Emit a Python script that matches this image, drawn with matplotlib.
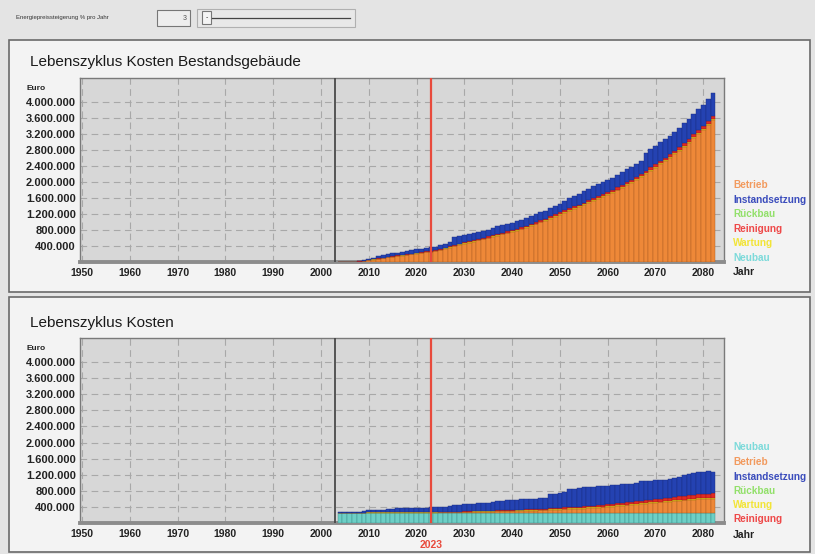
import numpy as np
import matplotlib
matplotlib.use('Agg')
import matplotlib.pyplot as plt
from matplotlib.patches import Rectangle
from matplotlib.ticker import FuncFormatter

plt.rcParams['font.family'] = ['Liberation Sans', 'DejaVu Sans']

# Jahre, ein Balken pro Jahr
jahre = list(range(2004, 2083))
jahr_bestand = 2003      # graue Linie
jahr_auswahl = 2023      # rote Linie
energiepreis = '3'

# --- Lebenszyklus Kosten Bestandsgebäude (Mio. Euro, kumuliert) ---
best_betrieb = [0.0, 0.0, 0.0, 0.0, 0.01, 0.02,
                0.04, 0.06, 0.08, 0.10, 0.12, 0.13, 0.15, 0.16, 0.18, 0.19,
                0.21, 0.22, 0.24, 0.25, 0.27, 0.30, 0.33, 0.36, 0.40, 0.43,
                0.46, 0.48, 0.51, 0.54, 0.57, 0.60, 0.63, 0.66, 0.69, 0.72,
                0.75, 0.78, 0.82, 0.86, 0.90, 0.94, 0.99, 1.03, 1.08, 1.13,
                1.18, 1.23, 1.28, 1.33, 1.37, 1.42, 1.47, 1.52, 1.57, 1.62,
                1.67, 1.73, 1.79, 1.85, 1.92, 1.98, 2.05, 2.12, 2.20, 2.28,
                2.36, 2.44, 2.52, 2.60, 2.69, 2.78, 2.87, 2.98, 3.09, 3.20,
                3.31, 3.43, 3.55]
best_wartung = [0, 0, 0, 0, 0.001, 0.002,
                0.002, 0.003, 0.003, 0.004, 0.004, 0.005, 0.005, 0.005, 0.006, 0.006,
                0.006, 0.007, 0.007, 0.007, 0.008, 0.008, 0.008, 0.009, 0.009, 0.009,
                0.010, 0.010, 0.010, 0.011, 0.011, 0.011, 0.012, 0.012, 0.012, 0.013,
                0.013, 0.013, 0.014, 0.014, 0.014, 0.015, 0.015, 0.015, 0.016, 0.016,
                0.016, 0.017, 0.017, 0.017, 0.018, 0.018, 0.018, 0.019, 0.019, 0.019,
                0.020, 0.020, 0.020, 0.021, 0.021, 0.021, 0.022, 0.022, 0.022, 0.023,
                0.023, 0.023, 0.024, 0.024, 0.024, 0.025, 0.025, 0.025, 0.026, 0.026,
                0.026, 0.027, 0.027]
best_reinigung = [0, 0, 0, 0, 0.002, 0.003,
                  0.004, 0.005, 0.006, 0.007, 0.008, 0.009, 0.010, 0.011, 0.012, 0.013,
                  0.014, 0.015, 0.016, 0.017, 0.018, 0.019, 0.020, 0.021, 0.022, 0.023,
                  0.024, 0.025, 0.026, 0.027, 0.028, 0.029, 0.030, 0.031, 0.032, 0.033,
                  0.034, 0.035, 0.036, 0.037, 0.038, 0.039, 0.040, 0.041, 0.042, 0.043,
                  0.044, 0.045, 0.046, 0.047, 0.048, 0.049, 0.050, 0.051, 0.052, 0.053,
                  0.054, 0.055, 0.056, 0.057, 0.058, 0.059, 0.060, 0.061, 0.062, 0.063,
                  0.064, 0.065, 0.066, 0.067, 0.068, 0.069, 0.070, 0.071, 0.072, 0.073,
                  0.074, 0.075, 0.076]
best_instand = [0.005, 0.005, 0.005, 0.005, 0.01, 0.02,
                0.03, 0.04, 0.05, 0.06, 0.06, 0.07, 0.07, 0.08, 0.08, 0.08,
                0.09, 0.09, 0.09, 0.09, 0.09, 0.10, 0.10, 0.11, 0.19, 0.19,
                0.19, 0.19, 0.18, 0.18, 0.17, 0.17, 0.19, 0.19, 0.19, 0.19,
                0.19, 0.19, 0.19, 0.19, 0.20, 0.20, 0.20, 0.20, 0.21, 0.21,
                0.21, 0.24, 0.25, 0.26, 0.27, 0.29, 0.29, 0.30, 0.30, 0.30,
                0.30, 0.30, 0.31, 0.31, 0.32, 0.32, 0.33, 0.33, 0.45, 0.45,
                0.45, 0.46, 0.46, 0.47, 0.47, 0.48, 0.50, 0.50, 0.51, 0.52,
                0.52, 0.55, 0.58]

# --- Lebenszyklus Kosten (Mio. Euro, kumuliert) ---
lz_neubau = [0.26, 0.26, 0.26, 0.26, 0.26, 0.26,
             0.26, 0.26, 0.26, 0.26, 0.26, 0.26, 0.26, 0.26, 0.26, 0.26,
             0.26, 0.26, 0.26, 0.26, 0.26, 0.26, 0.26, 0.26, 0.26, 0.26,
             0.26, 0.26, 0.26, 0.26, 0.26, 0.26, 0.26, 0.26, 0.26, 0.26,
             0.26, 0.26, 0.26, 0.26, 0.26, 0.26, 0.26, 0.26, 0.26, 0.26,
             0.26, 0.26, 0.26, 0.26, 0.26, 0.26, 0.26, 0.26, 0.26, 0.26,
             0.26, 0.26, 0.26, 0.26, 0.26, 0.26, 0.26, 0.26, 0.26, 0.26,
             0.26, 0.26, 0.26, 0.26, 0.26, 0.26, 0.26, 0.26, 0.26, 0.26,
             0.26, 0.26, 0.26]
lz_betrieb = [0, 0, 0, 0, 0, 0,
              0, 0, 0, 0, 0, 0, 0, 0, 0, 0,
              0, 0, 0, 0, 0, 0.005, 0.005, 0.01, 0.01, 0.01,
              0.015, 0.015, 0.02, 0.02, 0.02, 0.025, 0.025, 0.03, 0.03, 0.035,
              0.035, 0.04, 0.04, 0.045, 0.05, 0.05, 0.055, 0.06, 0.065, 0.07,
              0.075, 0.08, 0.085, 0.09, 0.095, 0.10, 0.11, 0.115, 0.12, 0.13,
              0.14, 0.15, 0.16, 0.17, 0.18, 0.19, 0.20, 0.21, 0.22, 0.23,
              0.24, 0.25, 0.26, 0.27, 0.28, 0.29, 0.30, 0.31, 0.32, 0.33,
              0.33, 0.33, 0.34]
lz_wartung = [0, 0, 0, 0, 0, 0,
              0.002, 0.002, 0.003, 0.003, 0.003, 0.004, 0.004, 0.004, 0.005, 0.005,
              0.005, 0.006, 0.006, 0.006, 0.007, 0.007, 0.007, 0.008, 0.008, 0.008,
              0.009, 0.009, 0.009, 0.010, 0.010, 0.010, 0.011, 0.011, 0.011, 0.012,
              0.012, 0.012, 0.013, 0.013, 0.013, 0.014, 0.014, 0.014, 0.015, 0.015,
              0.015, 0.016, 0.016, 0.016, 0.017, 0.017, 0.017, 0.018, 0.018, 0.018,
              0.019, 0.019, 0.019, 0.020, 0.020, 0.020, 0.021, 0.021, 0.021, 0.022,
              0.022, 0.022, 0.023, 0.023, 0.023, 0.024, 0.024, 0.024, 0.025, 0.025,
              0.025, 0.026, 0.026]
lz_reinigung = [0, 0, 0, 0, 0, 0,
                0, 0, 0, 0, 0, 0, 0, 0, 0, 0,
                0, 0, 0, 0, 0, 0.002, 0.003, 0.004, 0.005, 0.006,
                0.007, 0.008, 0.009, 0.010, 0.011, 0.012, 0.013, 0.014, 0.015, 0.016,
                0.017, 0.018, 0.019, 0.020, 0.021, 0.022, 0.023, 0.024, 0.025, 0.026,
                0.028, 0.030, 0.032, 0.034, 0.036, 0.038, 0.040, 0.042, 0.044, 0.046,
                0.048, 0.050, 0.052, 0.054, 0.056, 0.058, 0.060, 0.063, 0.066, 0.069,
                0.072, 0.075, 0.078, 0.081, 0.084, 0.087, 0.090, 0.093, 0.096, 0.099,
                0.102, 0.106, 0.110]
lz_instand = [0.01, 0.01, 0.01, 0.01, 0.02, 0.04,
              0.05, 0.05, 0.06, 0.07, 0.08, 0.09, 0.10, 0.11, 0.10, 0.10,
              0.10, 0.11, 0.11, 0.12, 0.12, 0.13, 0.13, 0.14, 0.16, 0.17,
              0.17, 0.18, 0.18, 0.19, 0.20, 0.20, 0.22, 0.22, 0.23, 0.24,
              0.25, 0.25, 0.26, 0.25, 0.26, 0.25, 0.26, 0.26, 0.36, 0.36,
              0.36, 0.39, 0.44, 0.45, 0.46, 0.47, 0.46, 0.47, 0.47, 0.47,
              0.46, 0.46, 0.46, 0.46, 0.45, 0.45, 0.46, 0.48, 0.47, 0.47,
              0.47, 0.46, 0.46, 0.47, 0.48, 0.49, 0.51, 0.53, 0.54, 0.55,
              0.56, 0.56, 0.54]

y_ticks = [400000, 800000, 1200000, 1600000, 2000000, 2400000,
           2800000, 3200000, 3600000, 4000000]
x_ticks = [1950, 1960, 1970, 1980, 1990, 2000, 2010, 2020, 2030, 2040, 2050, 2060, 2070, 2080]

farben = {'Betrieb': '#ee8838', 'Instandsetzung': '#2442b2', 'Rückbau': '#7ed85c',
          'Reinigung': '#e22a22', 'Wartung': '#f4e222', 'Neubau': '#6ccfc6'}
kanten = {'Betrieb': '#a85a20', 'Instandsetzung': '#1a2c80', 'Rückbau': '#4a9a30',
          'Reinigung': '#9a1a14', 'Wartung': '#b0a010', 'Neubau': '#3a8a84'}
text_farben = {'Betrieb': '#f29a5e', 'Instandsetzung': '#3a4cbc', 'Rückbau': '#92e06a',
               'Reinigung': '#ee4848', 'Wartung': '#f2e436', 'Neubau': '#7cdada'}

W, H = 815, 554
fig = plt.figure(figsize=(W / 100, H / 100), dpi=100)
fig.patch.set_facecolor('#e4e4e4')


def fx(px):
    return px / W


def fy(py):
    return 1 - py / H


# Fensterrahmen / Panels (hinter den Achsen)
fig.patches.append(Rectangle((fx(9), fy(292)), fx(801), 252 / H, transform=fig.transFigure,
                             facecolor='#f3f3f3', edgecolor='#6a6a6a', lw=1.2, zorder=-10))
fig.patches.append(Rectangle((fx(9), fy(552)), fx(801), 255 / H, transform=fig.transFigure,
                             facecolor='#f3f3f3', edgecolor='#6a6a6a', lw=1.2, zorder=-10))

# Kopfzeile: Energiepreissteigerung
fig.text(fx(16), fy(17), 'Energiepreissteigerung % pro Jahr', fontsize=4.3, color='#333333',
         va='center')
fig.patches.append(Rectangle((fx(157), fy(26)), fx(33), 16 / H, transform=fig.transFigure,
                             facecolor='#eeeeee', edgecolor='#777777', lw=0.8, zorder=-5))
fig.text(fx(187), fy(18), energiepreis, fontsize=5, color='#555555', ha='right', va='center')
fig.patches.append(Rectangle((fx(197), fy(27)), fx(158), 18 / H, transform=fig.transFigure,
                             facecolor='#e8e8e8', edgecolor='#b0b0b0', lw=0.8, zorder=-5))
fig.patches.append(Rectangle((fx(202), fy(24)), fx(9), 13 / H, transform=fig.transFigure,
                             facecolor='#f4f4f4', edgecolor='#777777', lw=0.8, zorder=-4))
fig.lines.append(plt.Line2D([fx(212), fx(350)], [fy(18), fy(18)], transform=fig.transFigure,
                            color='#444444', lw=0.9))
fig.text(fx(206.5), fy(18), '-', fontsize=5, ha='center', va='center', color='#333333')

fmt = FuncFormatter(lambda v, p: '{:,}'.format(int(v)).replace(',', '.'))


def panel(rect, title, title_y, layers, legend, legend_ys, jahr_y):
    ax = fig.add_axes(rect)
    ax.set_facecolor('#d7d7d7')
    x = np.array(jahre)
    bottom = np.zeros(len(jahre))
    for name, werte in layers:
        v = np.array(werte) * 1e6
        ax.bar(x, v, width=1.0, bottom=bottom, color=farben[name],
               edgecolor=kanten[name], linewidth=0.3, zorder=3)
        bottom += v
    ax.axvline(jahr_bestand, color='#4a4a4a', lw=1.3, zorder=4)
    ax.axvline(jahr_auswahl, color='#e84a3c', lw=1.6, zorder=4)

    ax.set_xlim(1949.6, 2084.3)
    ax.set_ylim(0, 4.6e6)
    ax.set_xticks(x_ticks)
    ax.set_yticks(y_ticks)
    ax.yaxis.set_major_formatter(fmt)
    ax.grid(True, color='#a8a8a8', linestyle=(0, (6, 4)), lw=0.8, zorder=1)
    ax.tick_params(length=0, labelsize=7.5, pad=4)
    ax.tick_params(axis='y', labelsize=8, pad=3)
    for lab in ax.get_xticklabels() + ax.get_yticklabels():
        lab.set_fontweight('bold')
        lab.set_color('#222222')
    for s in ax.spines.values():
        s.set_color('#7a7a7a')
        s.set_linewidth(1.0)
    ax.spines['bottom'].set_linewidth(2.8)
    ax.spines['bottom'].set_color('#8c8c8c')

    fig.text(fx(30), fy(title_y), title, fontsize=11, color='#1a1a1a', va='center')
    fig.text(fx(26), fy(title_y + 26), 'Euro', fontsize=6, fontweight='bold',
             color='#222222', va='center')
    for name, ypx in zip(legend, legend_ys):
        fig.text(fx(733), fy(ypx), name, fontsize=7.2, fontweight='bold',
                 color=text_farben[name], va='center')
    fig.text(fx(733), fy(jahr_y), 'Jahr', fontsize=7.5, fontweight='bold',
             color='#222222', va='center')
    return ax


panel([fx(80), fy(262), fx(644), 184 / H], 'Lebenszyklus Kosten Bestandsgebäude', 62,
      [('Betrieb', best_betrieb), ('Wartung', best_wartung),
       ('Reinigung', best_reinigung), ('Instandsetzung', best_instand)],
      ['Betrieb', 'Instandsetzung', 'Rückbau', 'Reinigung', 'Wartung', 'Neubau'],
      [185, 200, 214, 229, 243, 258], 272)

ax2 = panel([fx(80), fy(523), fx(644), 185 / H], 'Lebenszyklus Kosten', 323,
            [('Neubau', lz_neubau), ('Betrieb', lz_betrieb), ('Wartung', lz_wartung),
             ('Reinigung', lz_reinigung), ('Instandsetzung', lz_instand)],
            ['Neubau', 'Betrieb', 'Instandsetzung', 'Rückbau', 'Wartung', 'Reinigung'],
            [447, 462, 477, 491, 505, 519], 535)

# ausgewähltes Jahr unter der Achse
fig.text(fx(431), fy(545), str(jahr_auswahl), ha='center', va='center', fontsize=7.5,
         fontweight='bold', color='#e84a3c', transform=fig.transFigure)

plt.savefig('out.png', dpi=100, facecolor=fig.get_facecolor())
